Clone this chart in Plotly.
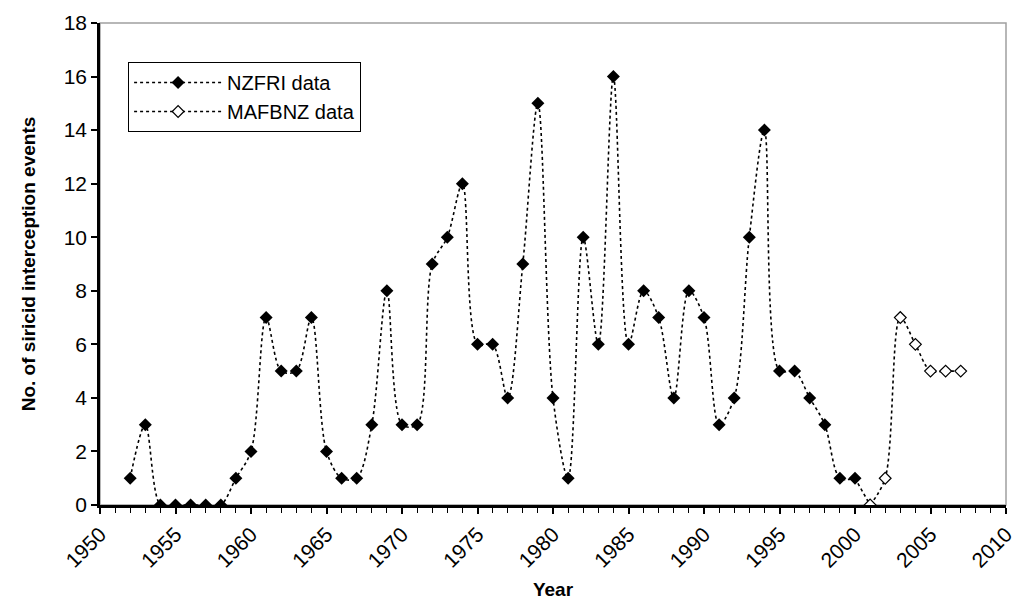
import plotly.graph_objects as go

nzfri_years = list(range(1952, 2001))
nzfri_counts = [1, 3, 0, 0, 0, 0, 0, 1, 2, 7,
                5, 5, 7, 2, 1, 1, 3, 8, 3, 3,
                9, 10, 12, 6, 6, 4, 9, 15, 4, 1,
                10, 6, 16, 6, 8, 7, 4, 8, 7, 3,
                4, 10, 14, 5, 5, 4, 3, 1, 1]
mafbnz_years = list(range(2001, 2008))
mafbnz_counts = [0, 1, 7, 6, 5, 5, 5]

x_ticks = list(range(1950, 2011, 5))
y_ticks = list(range(0, 19, 2))

FONT = "Arial, Liberation Sans, sans-serif"

fig = go.Figure()

# connector between the two series (last NZFRI point to first MAFBNZ point)
fig.add_trace(go.Scatter(
    x=[nzfri_years[-1], mafbnz_years[0]], y=[nzfri_counts[-1], mafbnz_counts[0]],
    mode="lines", line=dict(color="black", width=1.6, dash="dot"),
    showlegend=False, hoverinfo="skip"))

fig.add_trace(go.Scatter(
    x=nzfri_years, y=nzfri_counts, name="NZFRI data",
    mode="lines+markers",
    line=dict(color="black", width=1.6, dash="dot", shape="spline", smoothing=0.9),
    marker=dict(symbol="diamond", size=10, color="black", line=dict(width=0))))

fig.add_trace(go.Scatter(
    x=mafbnz_years, y=mafbnz_counts, name="MAFBNZ data",
    mode="lines+markers",
    line=dict(color="black", width=1.6, dash="dot", shape="spline", smoothing=0.9),
    marker=dict(symbol="diamond", size=9, color="white", line=dict(width=1.2, color="black"))))

fig.add_shape(type="rect", xref="paper", yref="paper", x0=0, x1=1, y0=0, y1=1,
              line=dict(color="#a0a0a0", width=1.5), layer="below")

fig.update_layout(
    width=1019, height=606,
    margin=dict(l=100, r=13, t=23, b=101),
    paper_bgcolor="white", plot_bgcolor="white",
    font=dict(family=FONT, size=20, color="black"),
    showlegend=True,
    legend=dict(x=0.031, y=0.919, xanchor="left", yanchor="top",
                bgcolor="white", bordercolor="black", borderwidth=1,
                font=dict(family=FONT, size=20, color="black"),
                tracegroupgap=0, itemwidth=88),
)

fig.update_xaxes(
    range=[1950, 2010], tickmode="array", tickvals=x_ticks,
    ticktext=[str(v) for v in x_ticks], tickangle=-45,
    ticks="outside", ticklen=6, tickwidth=1.5, tickcolor="black",
    minor=dict(dtick=1, ticks="outside", ticklen=5, tickwidth=1, tickcolor="black"),
    showline=True, linecolor="black", linewidth=2.5,
    showgrid=False, zeroline=False, automargin=False,
    tickfont=dict(family=FONT, size=21),
    title=dict(text="<b>Year</b>", font=dict(family=FONT, size=19), standoff=12))

fig.update_yaxes(
    range=[0, 18], tickmode="array", tickvals=y_ticks,
    ticks="outside", ticklen=6, tickwidth=1.5, tickcolor="black",
    showline=True, linecolor="black", linewidth=2.5,
    showgrid=False, zeroline=False, automargin=False,
    tickfont=dict(family=FONT, size=21),
    title=dict(text="<b>No. of siricid interception events</b>",
               font=dict(family=FONT, size=19), standoff=24))

fig.write_html("out.html", config={"displayModeBar": False},
               post_script="document.body.style.margin='0';")
